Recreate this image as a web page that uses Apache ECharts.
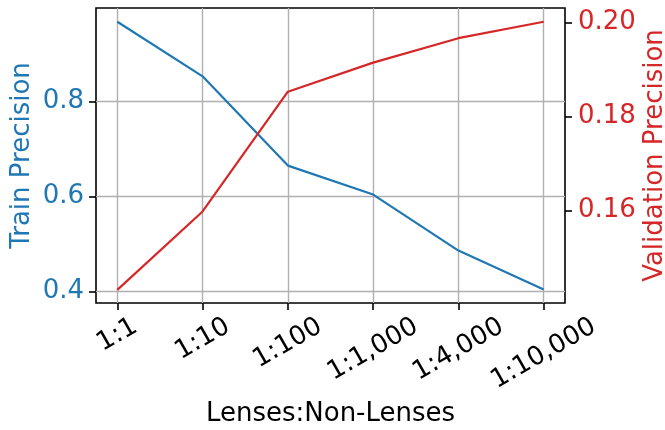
<!DOCTYPE html>
<html>
<head>
<meta charset="utf-8">
<script src="https://cdn.jsdelivr.net/npm/echarts@6/dist/echarts.min.js"></script>
<style>
  html, body { margin: 0; padding: 0; background: #fff; }
  #main { width: 665px; height: 430px; }
</style>
</head>
<body>
<div id="main"></div>
<script>
// categories and values
var xLabels = ['1:1', '1:10', '1:100', '1:1,000', '1:4,000', '1:10,000'];
var trainPrecision = [0.968, 0.853, 0.665, 0.604, 0.486, 0.404];
var valPrecision = [0.1431, 0.1598, 0.1853, 0.1915, 0.1967, 0.2002];
var leftTicks = [0.4, 0.6, 0.8];
var rightTicks = [0.16, 0.18, 0.20];

var BLUE = '#1f77b4';
var RED = '#d62728';
var FONT = 'DejaVu Sans';
var FS = 26;

var dom = document.getElementById('main');
var myChart = echarts.init(dom, null, { renderer: 'canvas' });

var xIdx = xLabels.map(function (_, i) { return i; });

// matplotlib puts the top of each rotated label at the same height;
// shift longer labels down with padding so it looks the same
var ctx = document.createElement('canvas').getContext('2d');
ctx.font = FS + 'px "' + FONT + '"';
var widths = xLabels.map(function (t) { return ctx.measureText(t).width; });
var wMin = Math.min.apply(null, widths);
var rich = {};
xLabels.forEach(function (t, i) {
    var d = (widths[i] - wMin) / 4;
    rich['l' + i] = {
        fontFamily: FONT,
        fontSize: FS,
        color: '#000',
        padding: [d * 1.732, d, 0, 0]
    };
});

function pairs(arr) {
    return arr.map(function (v, i) { return [i, v]; });
}

var tickStyle = { color: '#000', width: 1.6 };
var gridLine = { color: '#b0b0b0', width: 1.4 };

var option = {
    animation: false,
    backgroundColor: '#fff',
    textStyle: { fontFamily: FONT },
    grid: {
        left: 96,
        right: 100,
        top: 8,
        bottom: 127,
        outerBoundsMode: 'none',
        containLabel: false,
        show: true,
        borderColor: '#000',
        borderWidth: 1.6,
        backgroundColor: 'transparent'
    },
    xAxis: {
        type: 'value',
        min: -0.25,
        max: 5.25,
        name: 'Lenses:Non-Lenses',
        nameLocation: 'middle',
        nameGap: 98,
        nameMoveOverlap: false,
        nameTextStyle: { fontFamily: FONT, fontSize: FS, color: '#000' },
        axisLine: { show: false, onZero: false },
        axisTick: { show: true, customValues: xIdx, length: 7, lineStyle: tickStyle },
        axisLabel: {
            customValues: xIdx,
            rotate: 30,
            align: 'center',
            verticalAlign: 'middle',
            margin: 32,
            formatter: function (v) {
                var i = Math.round(v);
                return '{l' + i + '|' + xLabels[i] + '}';
            },
            rich: rich
        },
        splitLine: { show: true, lineStyle: gridLine }
    },
    yAxis: [
        {
            type: 'value',
            position: 'left',
            min: 0.3756,
            max: 0.997,
            name: 'Train Precision',
            nameLocation: 'middle',
            nameGap: 61,
            nameMoveOverlap: false,
            nameTextStyle: { fontFamily: FONT, fontSize: FS, color: BLUE },
            axisLine: { show: false, onZero: false },
            axisTick: { show: true, customValues: leftTicks, length: 7, lineStyle: tickStyle },
            axisLabel: {
                customValues: leftTicks,
                margin: 12,
                fontFamily: FONT,
                fontSize: FS,
                color: BLUE,
                formatter: function (v) { return v.toFixed(1); }
            },
            splitLine: { show: true, lineStyle: gridLine }
        },
        {
            type: 'value',
            position: 'right',
            min: 0.1403,
            max: 0.20313,
            name: 'Validation Precision',
            nameLocation: 'middle',
            nameGap: 77,
            nameRotate: 90,
            nameMoveOverlap: false,
            nameTextStyle: { fontFamily: FONT, fontSize: FS, color: RED },
            axisLine: { show: false, onZero: false },
            axisTick: { show: true, customValues: rightTicks, length: 7, lineStyle: tickStyle },
            axisLabel: {
                customValues: rightTicks,
                margin: 13,
                fontFamily: FONT,
                fontSize: FS,
                color: RED,
                formatter: function (v) { return v.toFixed(2); }
            },
            splitLine: { show: false }
        }
    ],
    series: [
        {
            name: 'Train Precision',
            type: 'line',
            yAxisIndex: 0,
            data: pairs(trainPrecision),
            showSymbol: false,
            lineStyle: { color: BLUE, width: 2.2 },
            itemStyle: { color: BLUE }
        },
        {
            name: 'Validation Precision',
            type: 'line',
            yAxisIndex: 1,
            data: pairs(valPrecision),
            showSymbol: false,
            lineStyle: { color: RED, width: 2.2 },
            itemStyle: { color: RED }
        }
    ]
};

myChart.setOption(option);
window.addEventListener('resize', myChart.resize);
</script>
</body>
</html>
